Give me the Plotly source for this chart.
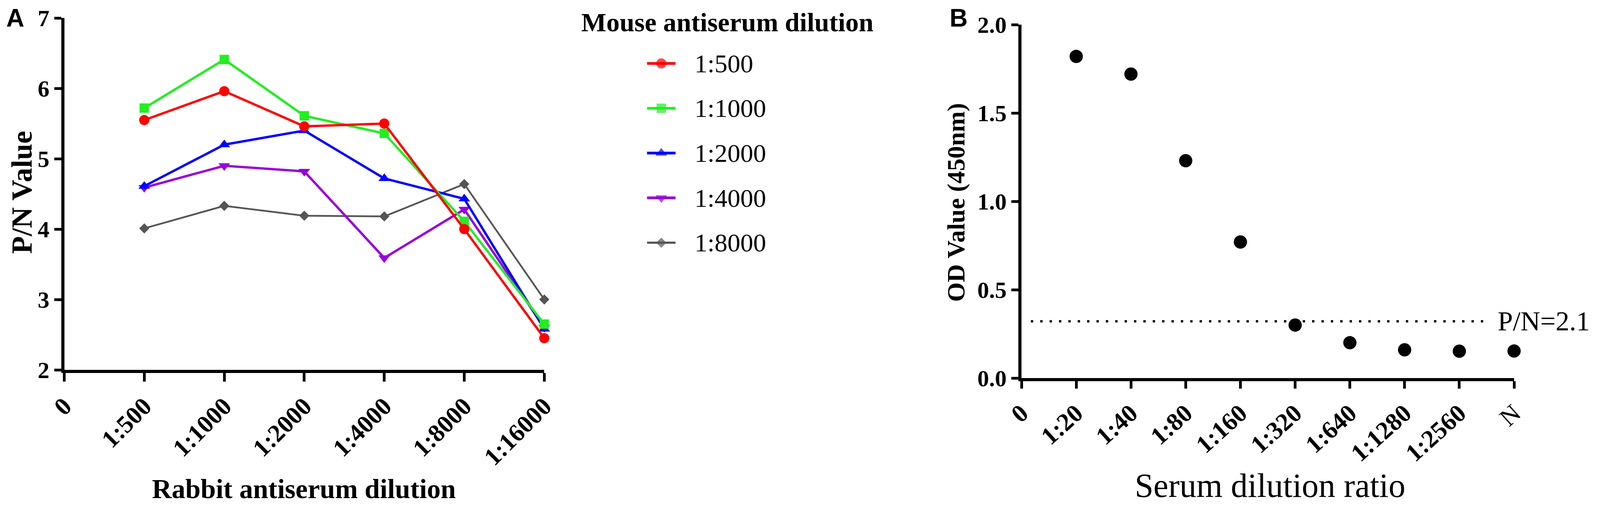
import plotly.graph_objects as go

# Positions below are measured in the 4562x1307 reference picture and
# turned into paper fractions; the figure width follows the window.
REF_W, REF_H = 4562, 1307
FIG_H = REF_H - 16          # body has an 8px margin top and bottom

SERIF = "Liberation Serif, Times New Roman, serif"
SANS = "Liberation Sans, Arial, sans-serif"

# ---- panel A data: P/N value vs rabbit antiserum dilution ----
rabbit_dilution = ["1:500", "1:1000", "1:2000", "1:4000", "1:8000", "1:16000"]
mouse_dilution = ["1:500", "1:1000", "1:2000", "1:4000", "1:8000"]
pn_mouse_500 = [5.55, 5.96, 5.46, 5.50, 4.00, 2.45]
pn_mouse_1000 = [5.72, 6.41, 5.61, 5.36, 4.11, 2.65]
pn_mouse_2000 = [4.61, 5.20, 5.40, 4.72, 4.43, 2.58]
pn_mouse_4000 = [4.59, 4.90, 4.82, 3.59, 4.28, 2.60]
pn_mouse_8000 = [4.01, 4.33, 4.19, 4.18, 4.64, 3.00]

# ---- panel B data: OD450 vs serum dilution ----
serum_dilution = ["1:20", "1:40", "1:80", "1:160", "1:320", "1:640", "1:1280", "1:2560", "N"]
od_450 = [1.82, 1.72, 1.23, 0.77, 0.30, 0.20, 0.16, 0.152, 0.153]
pn_cutoff = 2.1


def px(x):
    return x / REF_W


def py(y):
    return 1 - (y - 8) / FIG_H


# styles for the five mouse dilutions (red, green, blue, purple, grey)
estilos = [
    dict(color="#ff0000", symbol="circle", size=26, width=6),
    dict(color="#22ee22", symbol="square", size=24, width=6),
    dict(color="#0000ff", symbol="triangle-up", size=26, width=6),
    dict(color="#9900dd", symbol="triangle-down", size=26, width=6),
    dict(color="#555555", symbol="diamond", size=20, width=4.5),
]
valores = [pn_mouse_500, pn_mouse_1000, pn_mouse_2000, pn_mouse_4000, pn_mouse_8000]

fig = go.Figure()

# Panel A lines (drawn in reverse so red ends on top)
x_a = [i + 1 for i in range(len(rabbit_dilution))]
for nome, vals, st in reversed(list(zip(mouse_dilution, valores, estilos))):
    fig.add_trace(go.Scatter(
        x=x_a, y=vals, mode="lines+markers", name=nome,
        line=dict(color=st["color"], width=st["width"]),
        marker=dict(symbol=st["symbol"], size=st["size"], color=st["color"]),
        xaxis="x", yaxis="y", cliponaxis=False, showlegend=False))

# Hand-made legend in its own hidden axes (bigger symbols than plotly's legend)
for i, (nome, st) in enumerate(zip(mouse_dilution, estilos)):
    fig.add_trace(go.Scatter(
        x=[0, 0.5, 1], y=[i, i, i], mode="lines+markers",
        line=dict(color=st["color"], width=st["width"] + 1),
        marker=dict(symbol=st["symbol"], size=[0, st["size"], 0], color=st["color"],
                    line=dict(width=0)),
        xaxis="x3", yaxis="y3", cliponaxis=False, showlegend=False, hoverinfo="skip"))
    fig.add_annotation(x=1, y=i, xref="x3", yref="y3", xshift=46, xanchor="left",
                       yanchor="middle", text=nome, showarrow=False,
                       font=dict(family=SERIF, size=66, color="black"))

# Panel B points
x_b = [i + 1 for i in range(len(serum_dilution))]
fig.add_trace(go.Scatter(
    x=x_b, y=od_450, mode="markers",
    marker=dict(symbol="circle", size=34, color="black"),
    xaxis="x2", yaxis="y2", cliponaxis=False, showlegend=False))

# cutoff line: P/N = 2.1 times the negative control
cutoff = pn_cutoff * od_450[-1]
fig.add_shape(type="line", xref="x2 domain", yref="y2", x0=0.019, x1=0.95,
              y0=cutoff, y1=cutoff, line=dict(color="black", width=6, dash="6px,18px"))
fig.add_annotation(x=px(4276), y=cutoff, xref="paper", yref="y2", xanchor="left",
                   yanchor="middle", text=f"P/N={pn_cutoff}", showarrow=False,
                   font=dict(family=SERIF, size=70, color="black"))

eixo = dict(showline=True, linecolor="black", linewidth=8, ticks="outside",
            tickcolor="black", tickwidth=7, showgrid=False, zeroline=False,
            automargin=False, ticklabeloverflow="allow")

ticks_b = ["0"] + serum_dilution
ticks_b = [t if t == "N" else f"<b>{t}</b>" for t in ticks_b]

fig.update_layout(
    height=FIG_H, autosize=True,
    margin=dict(l=0, r=0, t=0, b=0, pad=0),
    paper_bgcolor="white", plot_bgcolor="white",
    xaxis=dict(eixo, domain=[px(175), px(1549)], range=[0, 6], anchor="y",
               tickmode="array", tickvals=list(range(7)),
               ticktext=["0"] + rabbit_dilution, tickangle=-45, ticklen=22,
               tickfont=dict(family=SERIF, size=64, color="black", weight="bold")),
    yaxis=dict(eixo, domain=[py(946), py(46)], range=[2, 7], anchor="x",
               tick0=2, dtick=1, ticklen=18,
               tickfont=dict(family=SERIF, size=60, color="black", weight="bold")),
    xaxis2=dict(eixo, domain=[px(2915), px(4325)], range=[0, 9], anchor="y2",
                tickmode="array", tickvals=list(range(10)), ticktext=ticks_b,
                tickangle=-42, ticklen=19,
                tickfont=dict(family=SERIF, size=64, color="black")),
    yaxis2=dict(eixo, domain=[py(967), py(63)], range=[0, 2], anchor="x2",
                tick0=0, dtick=0.5, tickformat=".1f", ticklen=18,
                tickfont=dict(family=SERIF, size=60, color="black", weight="bold")),
    xaxis3=dict(domain=[px(1843), px(1925)], range=[0, 1], visible=False, anchor="y3"),
    yaxis3=dict(domain=[py(678), py(105)], range=[4.5, -0.5], visible=False,
                anchor="x3"),
)

# panel letters hang from the top edge
for letra, xl in [("A", 35), ("B", 2735)]:
    fig.add_annotation(x=px(xl), y=1, xref="paper", yref="paper", xanchor="center",
                       yanchor="top", text=f"<b>{letra}</b>", showarrow=False,
                       font=dict(family=SANS, size=64, color="black"))

# axis and legend titles
textos = [
    dict(x=px(54), y=py(492), text="<b>P/N Value</b>", textangle=-90,
         font=dict(family=SERIF, size=74)),
    dict(x=px(861), y=py(1250), text="<b>Rabbit antiserum dilution</b>",
         font=dict(family=SERIF, size=70)),
    dict(x=px(2073), y=py(57), text="<b>Mouse antiserum dilution</b>",
         font=dict(family=SERIF, size=68)),
    dict(x=px(2727), y=py(517), text="<b>OD Value (450nm)</b>", textangle=-90,
         font=dict(family=SERIF, size=64)),
    dict(x=px(3627), y=py(1242), text="Serum dilution ratio",
         font=dict(family=SERIF, size=86)),
]
for t in textos:
    t["font"]["color"] = "black"
    fig.add_annotation(xref="paper", yref="paper", xanchor="center", yanchor="middle",
                       showarrow=False, **t)

fig.write_html("out.html")
